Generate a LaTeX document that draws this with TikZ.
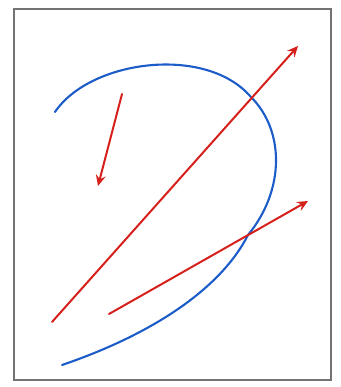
\documentclass[tikz,border=0pt]{standalone}
\usetikzlibrary{arrows.meta}
\definecolor{curveblue}{RGB}{28,92,200}
\definecolor{arrowred}{RGB}{214,32,28}

\begin{document}
\begin{tikzpicture}[
  x=1pt, y=-1pt,
  frame/.style={draw=black!55, line width=1.6pt},
  curve/.style={draw=curveblue, line width=2.1pt, line cap=round},
  arr/.style={draw=arrowred, line width=2pt, line cap=round,
              -{Stealth[length=11pt, width=10pt, inset=4pt]}}
]
\useasboundingbox (0,0) rectangle (340,387);
\draw[frame] (14,9) rectangle (331,380);

% the blue curve
\coordinate (c0) at (55,112);
\coordinate (c1) at (250,96);
\coordinate (c2) at (248,235);
\coordinate (c3) at (62,365);
\draw[curve] (c0) .. controls (90,60) and (205,45) .. (c1)
                  .. controls (285,130) and (285,190) .. (c2)
                  .. controls (220,290) and (150,335) .. (c3);

% arrow ends
\coordinate (a1s) at (122,94);
\coordinate (a1e) at (98,186);
\coordinate (a2s) at (52,322);
\coordinate (a2e) at (298,46);
\coordinate (a3s) at (109,314);
\coordinate (a3e) at (308,201);

\draw[arr] (a1s) -- (a1e);
\draw[arr] (a2s) -- (a2e);
\draw[arr] (a3s) -- (a3e);
\end{tikzpicture}
\end{document}
